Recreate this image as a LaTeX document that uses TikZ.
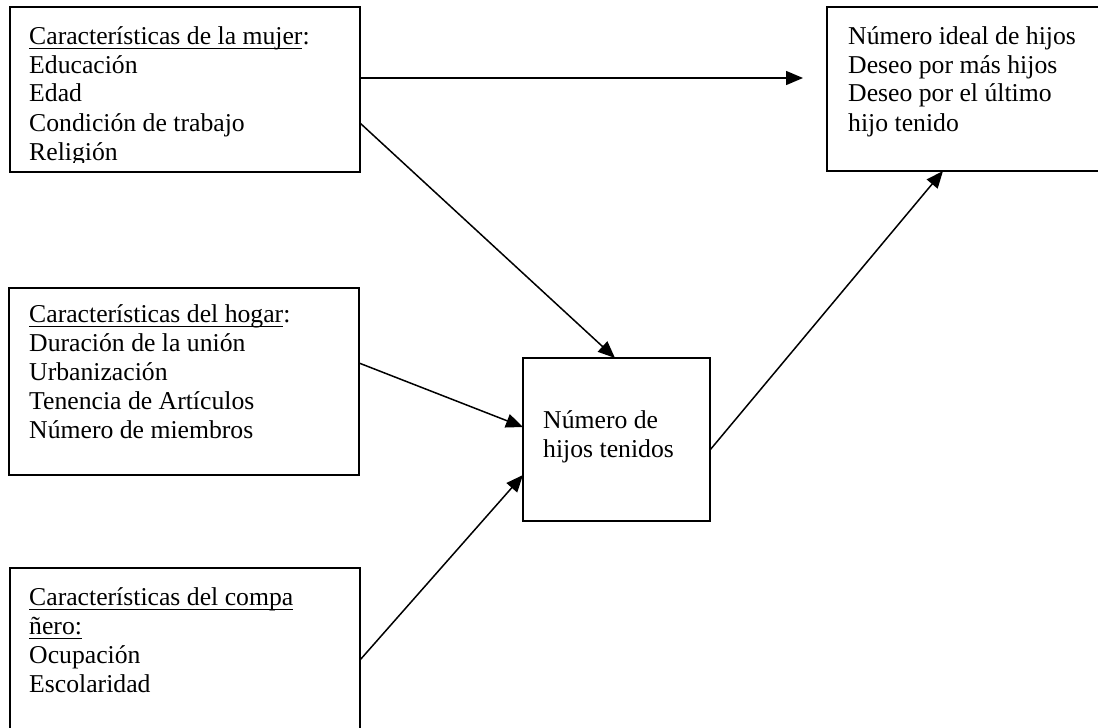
\documentclass[tikz,border=0pt]{standalone}
\usepackage{fontspec}
\setmainfont{Liberation Serif}
\usetikzlibrary{arrows.meta}
\newcommand\myul[1]{\leavevmode\setbox0\hbox{#1}\rlap{\rule[-5pt]{\wd0}{1.4pt}}\box0}
\begin{document}
\begin{tikzpicture}[x=1pt,y=-1pt,
  box/.style={draw, line width=1.6pt, anchor=north west, inner sep=0pt, outer sep=0pt},
  txt/.style={anchor=base west, inner sep=0pt, font=\fontsize{25.7}{29}\selectfont},
  arr/.style={line width=1.5pt, -{Triangle[length=17pt,width=14pt]}}]
\useasboundingbox (0,0) rectangle (1098,728);
\fill[white] (0,0) rectangle (1098,728);
% boxes
\node[box, minimum width=350pt, minimum height=165pt] (mujer) at (10,7) {};
\node[box, minimum width=276pt, minimum height=164pt] (ideal) at (827,7) {};
\node[box, minimum width=350pt, minimum height=187pt] (hogar) at (9,288) {};
\node[box, minimum width=187pt, minimum height=163pt] (hijos) at (523,358) {};
\node[box, minimum width=350pt, minimum height=172pt] (compa) at (10,568) {};
% texts
\begin{scope}
\clip (0,0) rectangle (1098,162);
\node[txt] (mujerT) at (29,44) {\begin{tabular}[t]{@{}l@{}}\myul{Características de la mujer}:\\ Educación\\ Edad\\ Condición de trabajo\\ Religión\end{tabular}};
\end{scope}
\node[txt] (idealT) at (848,44) {\begin{tabular}[t]{@{}l@{}}Número ideal de hijos\\ Deseo por más hijos\\ Deseo por el último\\ hijo tenido\end{tabular}};
\node[txt] (hogarT) at (29,322) {\begin{tabular}[t]{@{}l@{}}\myul{Características del hogar}:\\ Duración de la unión\\ Urbanización\\ Tenencia de Artículos\\ Número de miembros\end{tabular}};
\node[txt] (hijosT) at (543,428) {\begin{tabular}[t]{@{}l@{}}Número de\\ hijos tenidos\end{tabular}};
\node[txt] (compaT) at (29,605) {\begin{tabular}[t]{@{}l@{}}\myul{Características del compa}\\ \myul{ñero:}\\ Ocupación\\ Escolaridad\end{tabular}};
% connectors
\coordinate (a1end) at (803,78);
\draw[arr] ([yshift=-71pt]mujer.north east) -- (a1end);
\draw[arr] ([yshift=-116pt]mujer.north east) -- ([xshift=92pt]hijos.north west);
\draw[arr] ([yshift=-75pt]hogar.north east) -- ([yshift=-69pt]hijos.north west);
\draw[arr] ([yshift=-92pt]compa.north east) -- ([yshift=-117pt]hijos.north west);
\draw[arr] ([yshift=-92pt]hijos.north east) -- ([xshift=116pt]ideal.south west);
\end{tikzpicture}
\end{document}
